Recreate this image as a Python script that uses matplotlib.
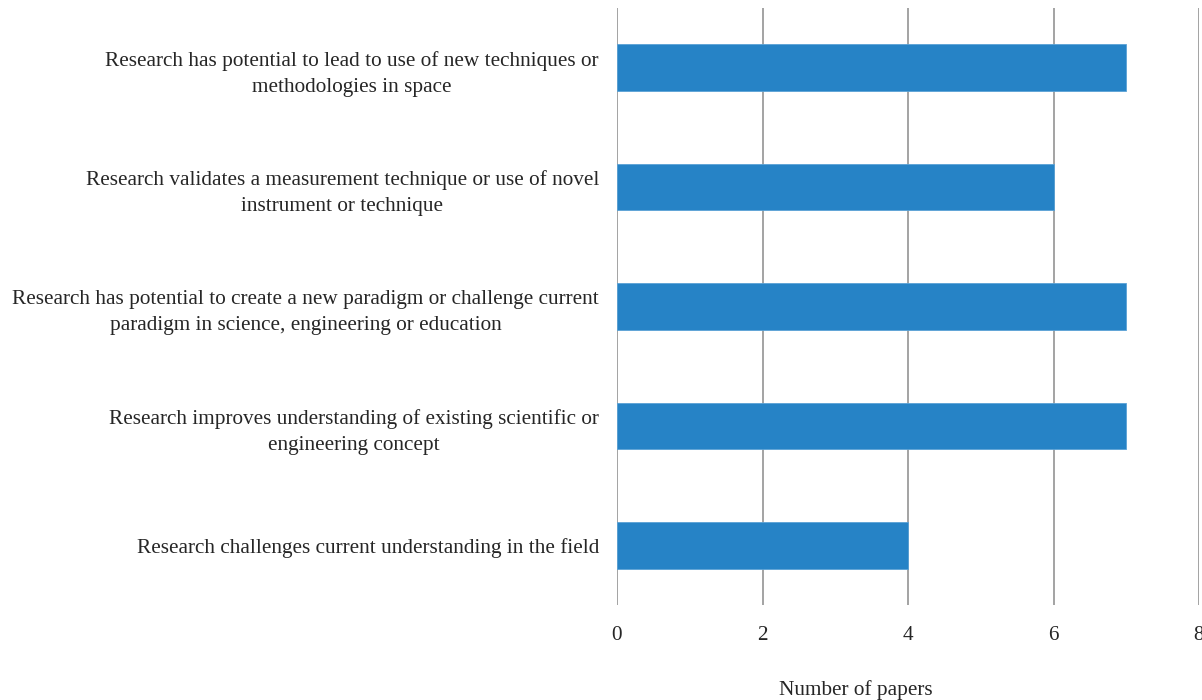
import matplotlib.pyplot as plt

# categories top to bottom, as in the chart
categories = [
    "Research has potential to lead to use of new techniques or\nmethodologies in space",
    "Research validates a measurement technique or use of novel\ninstrument or technique",
    "Research has potential to create a new paradigm or challenge current\nparadigm in science, engineering or education",
    "Research improves understanding of existing scientific or\nengineering concept",
    "Research challenges current understanding in the field",
]
counts = [7, 6, 7, 7, 4]
xticks = [0, 2, 4, 6, 8]

plt.rcParams['font.family'] = ['Liberation Serif', 'DejaVu Serif']

fig = plt.figure(figsize=(12.02, 7.0), dpi=100)
ax = fig.add_axes([617 / 1202, 1 - 605 / 700, 582 / 1202, 597 / 700])

ypos = list(range(len(categories)))
ax.barh(ypos, counts, height=0.39, color='#2683C6', edgecolor='#5aa2d6',
        linewidth=0.6, zorder=3)
ax.set_ylim(len(categories) - 0.5, -0.5)
ax.set_xlim(0, 8)
ax.set_xticks(xticks)
ax.set_yticks(ypos)
ax.set_yticklabels(categories, fontsize=15.3, multialignment='center',
                   linespacing=1.5, color='#262626')
ax.tick_params(axis='x', length=0, pad=15, labelsize=15.3, labelcolor='#262626')
ax.tick_params(axis='y', length=0, pad=13)
ax.grid(axis='x', color='#8a8a8a', linewidth=1.1, zorder=0)
for s in ax.spines.values():
    s.set_visible(False)

fig.text(856 / 1202, 1 - 690 / 700, "Number of papers", ha='center', va='center',
         fontsize=15.3, color='#262626')

fig.savefig('out.png', dpi=100)
